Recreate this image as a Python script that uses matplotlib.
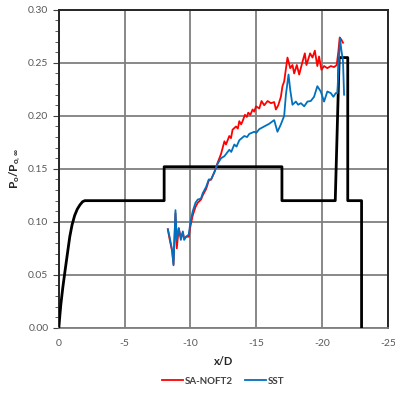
import matplotlib
matplotlib.use("Agg")
import matplotlib.pyplot as plt
from matplotlib.ticker import MultipleLocator

plt.rcParams["font.family"] = ["Lato", "DejaVu Sans"]
plt.rcParams["mathtext.fontset"] = "custom"
plt.rcParams["mathtext.rm"] = "Lato"
plt.rcParams["mathtext.bf"] = "Lato:bold"

# ── Geometry profile (black) ─────────────────────────────
geom_x = [0.0, -0.05, -0.15, -0.3, -0.45, -0.65, -0.83, -1.0, -1.2, -1.4, -1.6, -1.8,
          -1.97, -8.0, -8.0, -16.95, -16.95, -21.0, -21.3, -21.95, -21.95, -23.0, -23.0]
geom_y = [0.0, 0.008, 0.022, 0.038, 0.052, 0.070, 0.086, 0.097, 0.106, 0.112, 0.116,
          0.119, 0.120, 0.120, 0.152, 0.152, 0.120, 0.120, 0.255, 0.255, 0.120, 0.120, 0.0]

# ── SA-NOFT2 (red) ───────────────────────────────────────
sa_x = [-8.28, -8.41, -8.61, -8.71, -8.86, -8.96, -9.11, -9.27, -9.42, -9.52, -9.67,
        -9.87, -10.0, -10.17, -10.38, -10.55, -10.8, -10.93, -11.19, -11.39, -11.57,
        -11.82, -12.07, -12.32, -12.45, -12.58, -12.7, -12.95, -13.08, -13.2, -13.46,
        -13.6, -13.71, -13.85, -13.96, -14.14, -14.28, -14.39, -14.55, -14.72, -14.85,
        -14.98, -15.23, -15.4, -15.6, -15.86, -16.11, -16.36,
        -16.49, -16.67, -16.87, -16.99, -17.12, -17.37, -17.58, -17.75, -17.88, -18.08,
        -18.26, -18.51, -18.69, -18.81, -18.94, -19.09, -19.27, -19.45, -19.64, -19.77,
        -19.95, -20.15, -20.40, -20.66, -20.91, -21.11, -21.24, -21.34, -21.46, -21.59]
sa_y = [0.093, 0.084, 0.072, 0.060, 0.108, 0.075, 0.094, 0.085, 0.090, 0.084, 0.086,
        0.086, 0.096, 0.106, 0.114, 0.118, 0.121, 0.125, 0.131, 0.139, 0.140,
        0.147, 0.156, 0.164, 0.170, 0.176, 0.173, 0.181, 0.179, 0.187, 0.190,
        0.188, 0.195, 0.192, 0.195, 0.201, 0.199, 0.203, 0.201, 0.206, 0.204,
        0.209, 0.207, 0.214, 0.210, 0.214, 0.212, 0.213,
        0.206, 0.210, 0.218, 0.228, 0.2325, 0.255, 0.245, 0.248, 0.240, 0.248,
        0.239, 0.251, 0.259, 0.248, 0.253, 0.259, 0.255, 0.2615, 0.247, 0.256,
        0.2435, 0.247, 0.245, 0.247, 0.246, 0.248, 0.261, 0.274, 0.272, 0.269]

# ── SST (blue) ───────────────────────────────────────────
sst_x = [-8.28, -8.41, -8.61, -8.71, -8.86, -8.96, -9.11, -9.27, -9.42, -9.52, -9.67,
         -9.87, -10.0, -10.17, -10.38, -10.55, -10.8, -10.93, -11.19, -11.39, -11.57,
         -11.82, -12.07, -12.32, -12.58, -12.95, -13.1, -13.33, -13.5, -13.71, -14.09,
         -14.3, -14.47, -14.85, -15.0, -15.23, -15.6, -15.98, -16.36, -16.61, -16.87,
         -17.12, -17.25, -17.45, -17.58,
         -17.75, -18.01, -18.18, -18.39, -18.64, -18.89, -19.14, -19.39, -19.64, -19.9,
         -20.15, -20.4, -20.66, -20.86, -21.04, -21.16, -21.29, -21.36, -21.46, -21.59,
         -21.67]
sst_y = [0.093, 0.086, 0.073, 0.059, 0.111, 0.083, 0.094, 0.083, 0.091, 0.083, 0.086,
         0.088, 0.100, 0.110, 0.118, 0.121, 0.122, 0.127, 0.133, 0.140, 0.140,
         0.147, 0.155, 0.160, 0.162, 0.168, 0.166, 0.173, 0.171, 0.177, 0.181,
         0.180, 0.183, 0.185, 0.184, 0.1875, 0.190, 0.1925, 0.196, 0.185, 0.192,
         0.200, 0.220, 0.239, 0.2245,
         0.2105, 0.2135, 0.2105, 0.212, 0.209, 0.2135, 0.214, 0.218, 0.228, 0.223,
         0.2135, 0.223, 0.2215, 0.218, 0.2215, 0.2215, 0.2545, 0.2735, 0.2625, 0.2515,
         0.220]

fig = plt.figure(figsize=(3.95, 3.95), dpi=100)
ax = fig.add_axes([0.149, 0.170, 0.833, 0.805])

ax.plot(geom_x, geom_y, color="black", linewidth=2.0, zorder=3)
ax.plot(sa_x, sa_y, color="#ff0000", linewidth=1.3, label="SA-NOFT2", zorder=4)
ax.plot(sst_x, sst_y, color="#0070c0", linewidth=1.3, label="SST", zorder=5)

ax.set_xlim(0, -25)
ax.set_ylim(0, 0.30)
ax.xaxis.set_major_locator(MultipleLocator(5))
ax.yaxis.set_major_locator(MultipleLocator(0.05))
ax.yaxis.set_minor_locator(MultipleLocator(0.01))
ax.yaxis.set_major_formatter(lambda v, p: f"{v:.2f}")
ax.xaxis.set_major_formatter(lambda v, p: f"{v:.0f}" if v != 0 else "0")

ax.grid(True, which="major", color="#7f7f7f", linewidth=1.3)
ax.tick_params(axis="both", which="both", labelsize=7.5, labelcolor="#595959",
               color="#404040")
ax.tick_params(axis="y", which="major", length=4, direction="out")
ax.tick_params(axis="y", which="minor", length=3, direction="out")
ax.tick_params(axis="x", which="major", length=0, pad=8)
for side in ("top", "right", "left"):
    ax.spines[side].set_color("#262626")
    ax.spines[side].set_linewidth(1.4)
ax.spines["bottom"].set_color("#7f7f7f")
ax.spines["bottom"].set_linewidth(1.3)

ax.set_xlabel("x/D", fontsize=8, fontweight="bold", color="#262626", labelpad=6)
ax.set_ylabel(r"$\mathbf{P_o/P_{o,\infty}}$", fontsize=8.5, color="#262626", labelpad=4)

fig.legend(loc="center", bbox_to_anchor=(0.565, 0.035), ncol=2, frameon=False,
           labelcolor="#404040", handlelength=2.2, handletextpad=0.2,
           columnspacing=1.2, prop={"weight": "bold", "size": 7})

fig.savefig("out.png", dpi=100)
